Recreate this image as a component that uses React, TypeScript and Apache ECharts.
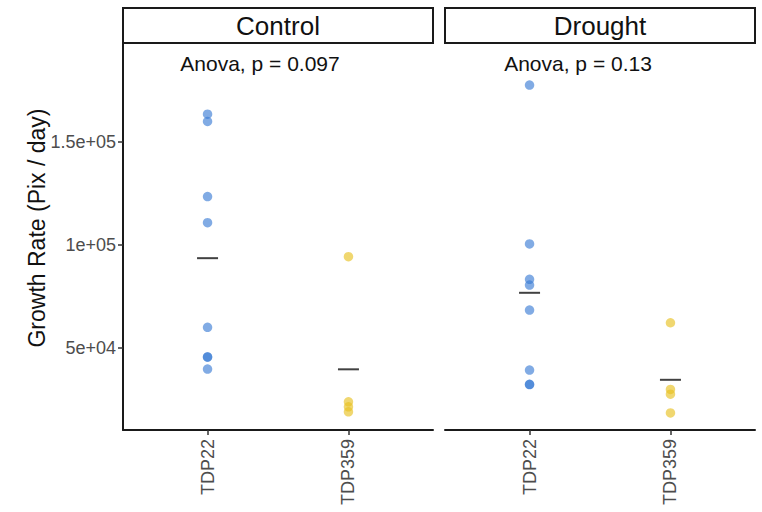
import React, { useEffect, useRef } from "react";
import * as echarts from "echarts";

const facets = ["Control", "Drought"];
const categories = ["TDP22", "TDP359"];
const pLabels = ["Anova, p = 0.097", "Anova, p = 0.13"];

const controlTDP22 = [163400, 159850, 123450, 110800, 60050, 45800, 45600, 39810];
const controlTDP359 = [94320, 23940, 21510, 19090];
const droughtTDP22 = [177520, 100485, 83350, 80580, 68450, 39325, 32450, 32300];
const droughtTDP359 = [62285, 29960, 27680, 18600];

const yTickValues = [50000, 100000, 150000];
const yTickLabels = ["5e+04", "1e+05", "1.5e+05"];

const groupColors = ["rgba(58,123,213,0.8)", "rgba(232,192,32,0.8)"];

const mean = (a: number[]) => a.reduce((s, v) => s + v, 0) / a.length;

export default function App() {
  const ref = useRef<HTMLDivElement>(null);
  useEffect(() => {
    if (!ref.current) return;
    const chart = echarts.init(ref.current, null, { renderer: "svg" });
    const panels = [
      [controlTDP22, controlTDP359],
      [droughtTDP22, droughtTDP359],
    ];
    const font = "Liberation Sans, Arial, Helvetica, sans-serif";
    const grids = [
      { left: 123, right: 762 - 433, top: 43, bottom: 512 - 430 },
      { left: 445, right: 762 - 755, top: 43, bottom: 512 - 430 },
    ];
    const xAxes = grids.map((_, i) => ({
      type: "value",
      gridIndex: i,
      min: 0.4,
      max: 2.6,
      splitLine: { show: false },
      axisLine: { show: true, onZero: false, lineStyle: { color: "#1a1a1a", width: 2 } },
      axisTick: { show: true, customValues: [1, 2], length: 5, lineStyle: { color: "#333", width: 1.5 } },
      axisLabel: {
        show: true,
        customValues: [1, 2],
        rotate: 90,
        margin: 9,
        color: "#4d4d4d",
        fontSize: 18,
        fontFamily: font,
        formatter: (v: number) => categories[Math.round(v) - 1] ?? "",
      },
    }));
    const yAxes = grids.map((_, i) => ({
      type: "value",
      gridIndex: i,
      min: 10300,
      max: 197900,
      splitLine: { show: false },
      axisLine: { show: i === 0, onZero: false, lineStyle: { color: "#1a1a1a", width: 2 } },
      axisTick: { show: i === 0, customValues: yTickValues, length: 5, lineStyle: { color: "#333", width: 1.5 } },
      axisLabel: {
        show: i === 0,
        customValues: yTickValues,
        margin: 7,
        color: "#4d4d4d",
        fontSize: 18,
        fontFamily: font,
        formatter: (v: number) => {
          const k = yTickValues.indexOf(v);
          return k >= 0 ? yTickLabels[k] : "";
        },
      },
    }));
    const series: any[] = [];
    panels.forEach((groups, pi) => {
      groups.forEach((vals, gi) => {
        series.push({
          type: "scatter",
          xAxisIndex: pi,
          yAxisIndex: pi,
          symbol: "circle",
          symbolSize: 9.5,
          itemStyle: { color: groupColors[gi] },
          data: vals.map((v) => [gi + 1, v]),
          z: 2,
        });
        series.push({
          type: "scatter",
          xAxisIndex: pi,
          yAxisIndex: pi,
          symbol: "rect",
          symbolSize: [21, 2],
          itemStyle: { color: "#111" },
          data: [[gi + 1, mean(vals)]],
          z: 3,
        });
      });
    });
    const graphics: any[] = [];
    grids.forEach((g, i) => {
      const x0 = g.left;
      const x1 = 762 - g.right;
      graphics.push({
        type: "rect",
        shape: { x: x0, y: 8, width: x1 - x0, height: 35 },
        style: { fill: "#fff", stroke: "#1a1a1a", lineWidth: 2 },
      });
      graphics.push({
        type: "text",
        x: (x0 + x1) / 2,
        y: 26,
        style: {
          text: facets[i],
          font: `26px ${font}`,
          fill: "#111",
          textAlign: "center",
          textVerticalAlign: "middle",
        },
      });
    });
    graphics.push({
      type: "text",
      x: 260,
      y: 63,
      style: { text: pLabels[0], font: `21px ${font}`, fill: "#111", textAlign: "center", textVerticalAlign: "middle" },
    });
    graphics.push({
      type: "text",
      x: 578,
      y: 63,
      style: { text: pLabels[1], font: `21px ${font}`, fill: "#111", textAlign: "center", textVerticalAlign: "middle" },
    });
    graphics.push({
      type: "text",
      x: 37,
      y: 228,
      rotation: Math.PI / 2,
      style: {
        text: "Growth Rate (Pix / day)",
        font: `23px ${font}`,
        fill: "#111",
        textAlign: "center",
        textVerticalAlign: "middle",
      },
    });
    chart.setOption({
      animation: false,
      backgroundColor: "#fff",
      grid: grids,
      xAxis: xAxes,
      yAxis: yAxes,
      series,
      graphic: graphics,
    });
    return () => chart.dispose();
  }, []);
  return <div ref={ref} style={{ width: 762, height: 512, position: "absolute", left: 0, top: 0 }} />;
}
